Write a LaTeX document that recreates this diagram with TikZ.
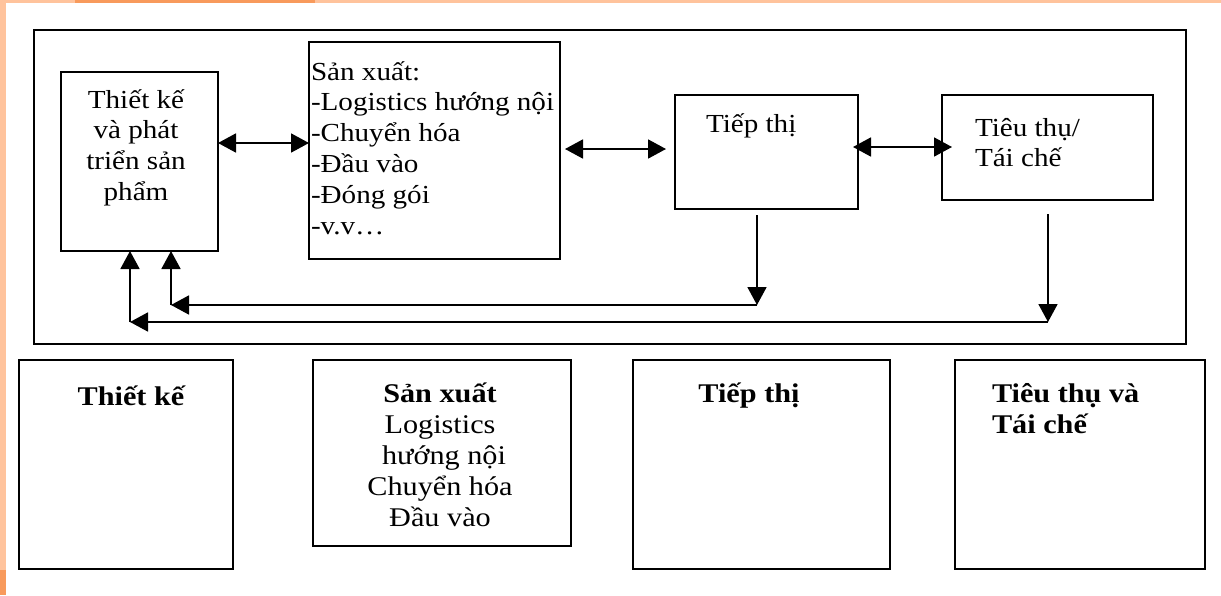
\documentclass[tikz,border=0pt]{standalone}
\usepackage{fontspec}
\setmainfont{Liberation Serif}[FakeStretch=1.12]
\usetikzlibrary{arrows.meta}
\definecolor{lorange}{HTML}{FFC39C}
\definecolor{dorange}{HTML}{F89A5C}
\newcommand{\topfont}{\fontsize{26pt}{30.8pt}\selectfont\lineskiplimit=-100pt}
\newcommand{\botfont}{\fontsize{27pt}{31pt}\selectfont\lineskiplimit=-100pt}
\newcommand{\st}{\rule{0pt}{30pt}}
\tikzset{
  box/.style={draw=black, line width=2.2pt, inner sep=0pt, outer sep=0pt, fill=none},
  lbl/.style={inner sep=0pt, outer sep=0pt, text=black},
  tip/.style={-{Triangle[length=18pt,width=19pt]}},
  dbl/.style={{Triangle[length=18pt,width=19pt]}-{Triangle[length=18pt,width=19pt]}, line width=1.8pt},
  arr/.style={tip, line width=1.8pt},
}
\begin{document}
\begin{tikzpicture}[x=1pt,y=-1pt]
\useasboundingbox (0,0) rectangle (1221,595);
% slide background
\fill[white] (0,0) rectangle (1221,595);
\fill[lorange] (0,0) rectangle (1221,3);
\fill[dorange] (75,0) rectangle (315,3);
\fill[lorange] (0,0) rectangle (6,595);
\fill[dorange] (0,570) rectangle (6,595);

% outer frame
\node[box, minimum width=1152pt, minimum height=314pt] (outer) at (610,187) {};

% top boxes
\node[box, minimum width=157pt, minimum height=179pt] (tk) at (139.5,161.5) {};
\node[box, minimum width=251pt, minimum height=217pt] (sx) at (434.5,150.5) {};
\node[box, minimum width=183pt, minimum height=114pt] (tt) at (766.5,152) {};
\node[box, minimum width=211pt, minimum height=105pt] (ts) at (1047.5,147.5) {};

\node[lbl, anchor=north, align=center, font=\topfont] (tkt) at (136,78)
  {\st Thiết kế\\và phát\\triển sản\\phẩm};
\node[lbl, anchor=north west, align=left, font=\topfont] (sxt) at (311,50)
  {\st Sản xuất:\\-Logistics hướng nội\\-Chuyển hóa\\-Đầu vào\\-Đóng gói\\-v.v…};
\node[lbl, anchor=north west, align=left, font=\topfont] (ttt) at (706,102)
  {\st Tiếp thị};
\node[lbl, anchor=north west, align=left, font=\topfont] (tst) at (975,106)
  {\st Tiêu thụ/\\Tái chế};

% horizontal double arrows
\draw[dbl] ([yshift=18.5pt]tk.east) -- ([yshift=18.5pt]tk.east -| sx.west);
\draw[dbl, shorten <=5pt, shorten >=9pt] ([yshift=1.5pt]sx.east) -- ([yshift=1.5pt]sx.east -| tt.west);
\draw[dbl, shorten <=-5pt, shorten >=-10pt] ([yshift=5pt]tt.east) -- ([yshift=5pt]tt.east -| ts.west);

% feedback loops
\coordinate (c1) at (757,305);
\coordinate (c2) at (171,305);
\coordinate (c3) at (1048,322);
\coordinate (c4) at (130,322);
\draw[arr] ([xshift=-9.5pt,yshift=-6pt]tt.south) -- (c1);
\draw[arr] (c1) -- (c2);
\draw[arr] (c2) -- (c2 |- tk.south);
\draw[arr] ([xshift=0.5pt,yshift=-14pt]ts.south) -- (c3);
\draw[arr] (c3) -- (c4);
\draw[arr] (c4) -- (c4 |- tk.south);

% bottom boxes
\node[box, minimum width=214pt, minimum height=209pt] (ba) at (126,464.5) {};
\node[box, minimum width=258pt, minimum height=186pt] (bb) at (442,453) {};
\node[box, minimum width=257pt, minimum height=209pt] (bc) at (761.5,464.5) {};
\node[box, minimum width=250pt, minimum height=209pt] (bd) at (1080,464.5) {};

\node[lbl, anchor=north, align=center, font=\botfont\bfseries] (bat) at (131,375)
  {\st Thiết kế};
\node[lbl, anchor=north, align=center, font=\botfont] (bbt) at (440,372)
  {\st\textbf{Sản xuất}\\Logistics\\\hspace*{8pt}hướng nội\\Chuyển hóa\\Đầu vào};
\node[lbl, anchor=north, align=center, font=\botfont\bfseries] (bct) at (749,372)
  {\st Tiếp thị};
\node[lbl, anchor=north west, align=left, font=\botfont\bfseries] (bdt) at (992,372)
  {\st Tiêu thụ và\\Tái chế};
\end{tikzpicture}
\end{document}
